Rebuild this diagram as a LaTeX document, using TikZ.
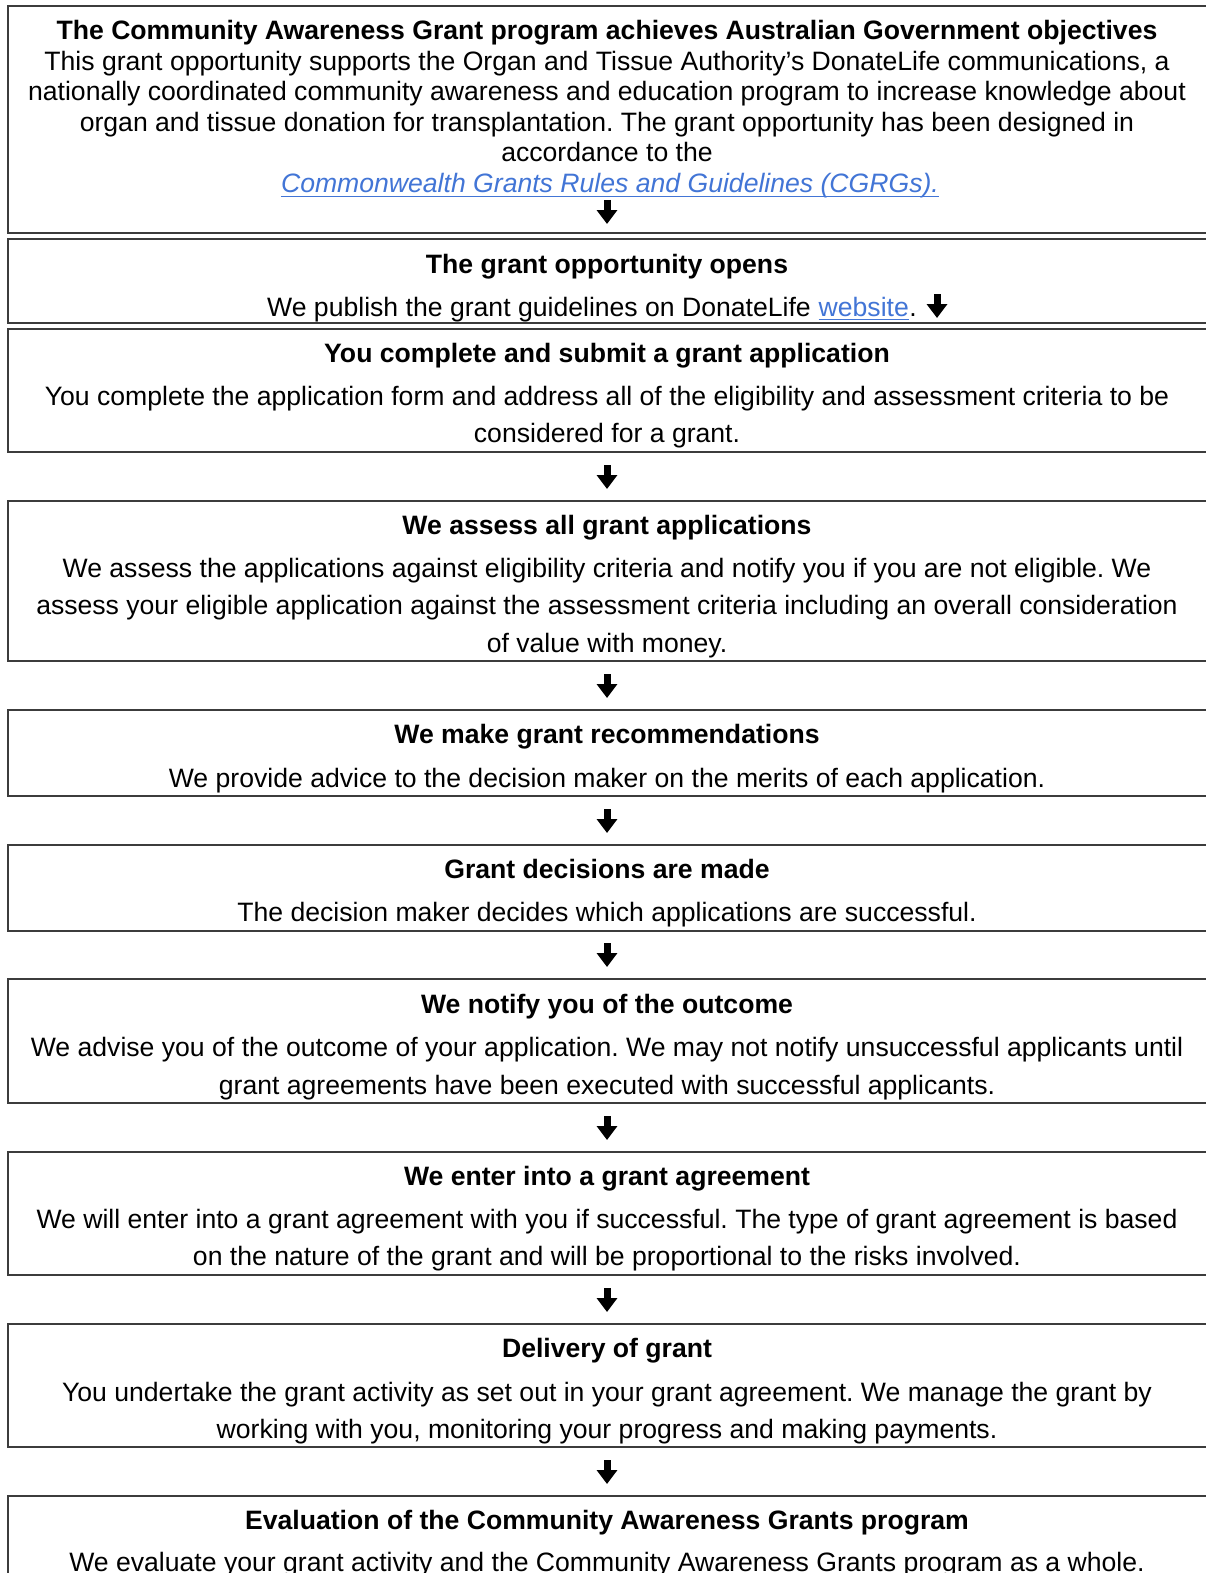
\documentclass[tikz,border=0pt]{standalone}
\usepackage{fontspec}
\setmainfont{Liberation Sans}
\usetikzlibrary{arrows.meta}
\definecolor{linkblue}{RGB}{66,117,214}
\definecolor{boxline}{RGB}{60,60,60}
\frenchspacing
\begin{document}
\begin{tikzpicture}[x=1pt,y=-1pt,
  stepbox/.style={draw=boxline, line width=1.6pt, inner sep=0pt, anchor=north west, minimum width=1230pt},
  txt/.style={anchor=base, inner sep=0pt, font=\fontsize{26.6}{30}\selectfont},
  ttl/.style={anchor=base, inner sep=0pt, font=\fontsize{26.6}{30}\selectfont\bfseries},
  link/.style={text=linkblue},
  underl/.style={draw=linkblue, line width=1pt},
  flowarrow/.style={line width=7pt, -{Triangle[width=20pt,length=14pt]}}]
\useasboundingbox (0,0) rectangle (1206,1573);
\clip (0,0) rectangle (1206,1573);
\fill[white] (0,0) rectangle (1206,1573);
% boxes
\node[stepbox, minimum height=227pt] (box1) at (7,5) {};
\node[stepbox, minimum height=84pt] (box2) at (7,238) {};
\node[stepbox, minimum height=123pt] (box3) at (7,328) {};
\node[stepbox, minimum height=160pt] (box4) at (7,500) {};
\node[stepbox, minimum height=86pt] (box5) at (7,709) {};
\node[stepbox, minimum height=86pt] (box6) at (7,844) {};
\node[stepbox, minimum height=124pt] (box7) at (7,978) {};
\node[stepbox, minimum height=123pt] (box8) at (7,1151) {};
\node[stepbox, minimum height=123pt] (box9) at (7,1323) {};
\node[stepbox, minimum height=120pt] (box10) at (7,1495) {};
% box 1
\node[ttl] (t1) at (607,40) {The Community Awareness Grant program achieves Australian Government objectives};
\node[txt] (t1a) at (607,71) {This grant opportunity supports the Organ and Tissue Authority’s DonateLife communications, a};
\node[txt] (t1b) at (607,101) {nationally coordinated community awareness and education program to increase knowledge about};
\node[txt] (t1c) at (607,132) {organ and tissue donation for transplantation. The grant opportunity has been designed in};
\node[txt] (t1d) at (607,162) {accordance to the};
\node[txt, link, font=\fontsize{26.6}{30}\selectfont\itshape] (t1e) at (610,193) {Commonwealth Grants Rules and Guidelines (CGRGs).};
\draw[underl] ([yshift=-3.5pt]t1e.base west) -- ([yshift=-3.5pt]t1e.base east);
% box 2
\node[ttl] (t2) at (607,273) {The grant opportunity opens};
\node[txt, anchor=base west] (t2a) at (267,316) {We publish the grant guidelines on DonateLife};
\node[txt, link, anchor=base west] (t2b) at ([xshift=7.4pt]t2a.base east) {website};
\node[txt, anchor=base west] (t2c) at (t2b.base east) {.};
\draw[underl] ([yshift=-3.5pt]t2b.base west) -- ([yshift=-3.5pt]t2b.base east);
% box 3
\node[ttl] (t3) at (607,362) {You complete and submit a grant application};
\node[txt] (t3a) at (607,405) {You complete the application form and address all of the eligibility and assessment criteria to be};
\node[txt] (t3b) at (607,442) {considered for a grant.};
% box 4
\node[ttl] (t4) at (607,534) {We assess all grant applications};
\node[txt] (t4a) at (607,577) {We assess the applications against eligibility criteria and notify you if you are not eligible. We};
\node[txt] (t4b) at (607,614) {assess your eligible application against the assessment criteria including an overall consideration};
\node[txt] (t4c) at (607,652) {of value with money.};
% box 5
\node[ttl] (t5) at (607,743) {We make grant recommendations};
\node[txt] (t5a) at (607,787) {We provide advice to the decision maker on the merits of each application.};
% box 6
\node[ttl] (t6) at (607,878) {Grant decisions are made};
\node[txt] (t6a) at (607,921) {The decision maker decides which applications are successful.};
% box 7
\node[ttl] (t7) at (607,1013) {We notify you of the outcome};
\node[txt] (t7a) at (607,1056) {We advise you of the outcome of your application. We may not notify unsuccessful applicants until};
\node[txt] (t7b) at (607,1094) {grant agreements have been executed with successful applicants.};
% box 8
\node[ttl] (t8) at (607,1185) {We enter into a grant agreement};
\node[txt] (t8a) at (607,1228) {We will enter into a grant agreement with you if successful. The type of grant agreement is based};
\node[txt] (t8b) at (607,1265) {on the nature of the grant and will be proportional to the risks involved.};
% box 9
\node[ttl] (t9) at (607,1357) {Delivery of grant};
\node[txt] (t9a) at (607,1401) {You undertake the grant activity as set out in your grant agreement. We manage the grant by};
\node[txt] (t9b) at (607,1438) {working with you, monitoring your progress and making payments.};
% box 10
\node[ttl] (t10) at (607,1529) {Evaluation of the Community Awareness Grants program};
\node[txt] (t10a) at (607,1571) {We evaluate your grant activity and the Community Awareness Grants program as a whole.};
% arrows
\foreach \n/\x/\y in {a1/607/212, a2/937/306, a3/607/477, a4/607/686, a5/607/821, a6/607/955, a7/607/1128, a8/607/1300, a9/607/1472}{
  \coordinate (\n s) at (\x,\y-12);
  \coordinate (\n e) at (\x,\y+12);
  \draw[flowarrow] (\n s) -- (\n e);
}
\end{tikzpicture}
\end{document}
